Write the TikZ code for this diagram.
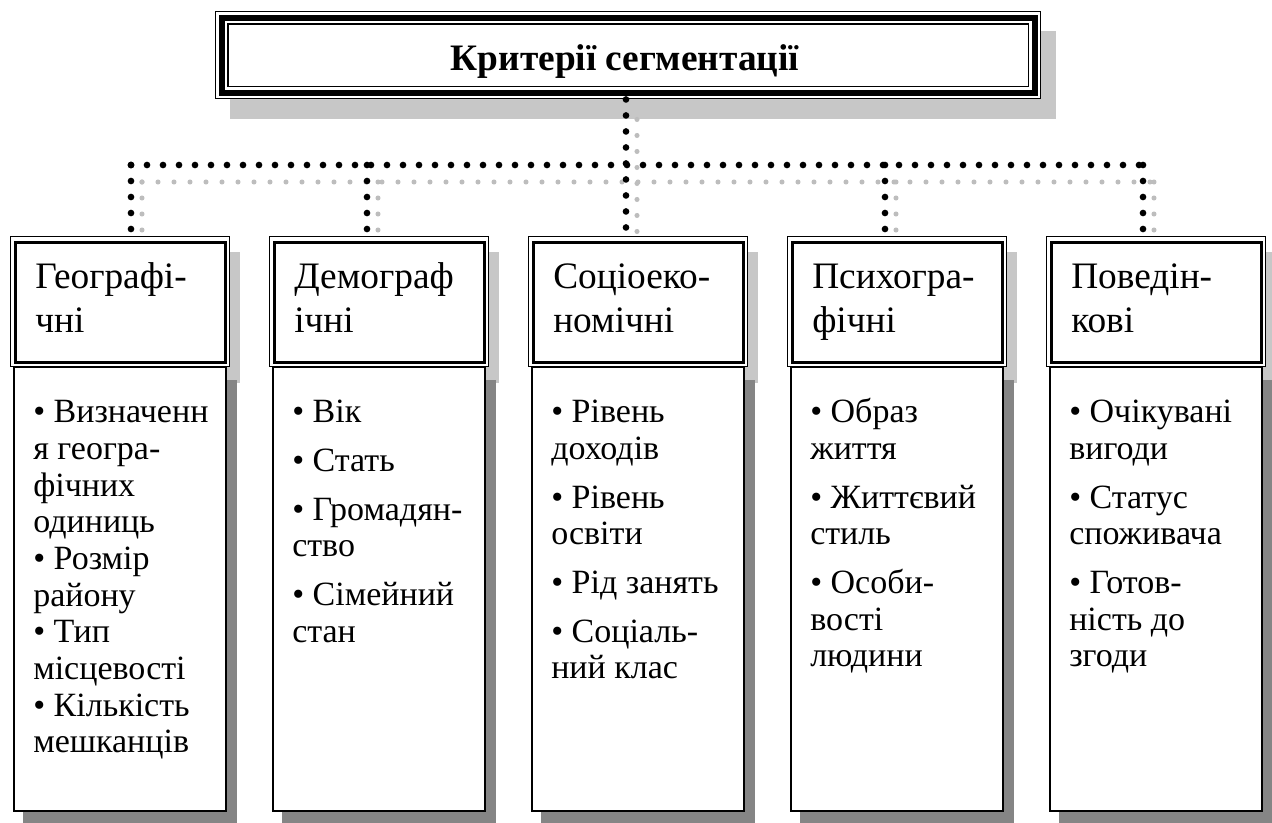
\documentclass[tikz,border=0pt]{standalone}
\usepackage{fontspec}
\setmainfont{Liberation Serif}
\usetikzlibrary{positioning,calc,backgrounds}
\definecolor{shadelight}{gray}{0.78}
\definecolor{shadedark}{gray}{0.52}
\definecolor{dotgray}{gray}{0.74}

\begin{document}
\begin{tikzpicture}[x=0.75pt,y=-0.75pt,
  headbox/.style={draw,line width=1.1pt,fill=white,anchor=north west,
    minimum width=164.25pt,minimum height=97.5pt,inner sep=0pt},
  lowbox/.style={draw,line width=1.5pt,fill=white,anchor=north west,
    minimum width=159pt,minimum height=333pt,inner sep=0pt},
  headtext/.style={anchor=north west,align=left,inner sep=0pt,
    font=\fontsize{28}{33}\selectfont},
  bodytext/.style={anchor=north west,align=left,inner sep=0pt,
    font=\fontsize{25.5}{27.5}\selectfont},
  blackdots/.style={line width=5pt,line cap=round,dash pattern=on 0pt off 12pt},
  graydots/.style={dotgray,line width=3.8pt,line cap=round,dash pattern=on 0pt off 12pt}
]
  \useasboundingbox (0,0) rectangle (1272,822);
  % головний блок
  \node[draw,line width=1.1pt,fill=white,anchor=north west,inner sep=0pt,
    minimum width=618.75pt,minimum height=65.25pt] (krit) at (215,11) {};
  \draw[line width=4.5pt] ($(krit.north west)+(6.5,6.5)$) rectangle ($(krit.south east)+(-6.5,-6.5)$);
  \draw[line width=1.1pt] ($(krit.north west)+(13,13)$) rectangle ($(krit.south east)+(-13,-13)$);
  \node[font=\fontsize{28}{32}\selectfont\bfseries,anchor=base] (kritlabel) at (625,70) {Критерії сегментації};
  % стовпці
  \foreach \i/\L/\c/\head/\body in {
    1/10/131/{Географі-\\чні}/{•~Визначенн\\я геогра-\\фічних\\одиниць\\•~Розмір\\району\\•~Тип\\місцевості\\•~Кількість\\мешканців},
    2/269/367/{Демограф\\ічні}/{•~Вік\\[9pt]•~Стать\\[9pt]•~Громадян-\\ство\\[9pt]•~Сімейний\\стан},
    3/528/626/{Соціоеко-\\номічні}/{•~Рівень\\доходів\\[9pt]•~Рівень\\освіти\\[9pt]•~Рід занять\\[9pt]•~Соціаль-\\ний клас},
    4/787/885/{Психогра-\\фічні}/{•~Образ\\життя\\[9pt]•~Життєвий\\стиль\\[9pt]•~Особи-\\вості\\людини},
    5/1046/1143/{Поведін-\\кові}/{•~Очікувані\\вигоди\\[9pt]•~Статус\\споживача\\[9pt]•~Готов-\\ність до\\згоди}}
  {
    \node[headbox] (h\i) at (\L,236) {};
    \node[lowbox] (l\i) at (\L+3,366) {};
    \draw[line width=2.25pt] ($(h\i.north west)+(5,6.5)$) rectangle ($(h\i.south east)+(-5,-5)$);
    \node[headtext] (ht\i) at (\L+25,257) {\strut\head};
    \node[bodytext] (bt\i) at (\L+23,397) {\strut\body};
    \coordinate (c\i) at (\c,165);
    \coordinate (g\i) at (\c+11,182);
  }
  % тіні
  \begin{scope}[on background layer]
    \fill[shadelight] ($(krit.north west)+(15,20)$) rectangle ($(krit.south east)+(15,20)$);
    \foreach \i in {1,...,5}
      \fill[shadelight] ($(h\i.north west)+(10,16)$) rectangle ($(h\i.south east)+(10,16)$);
    \foreach \i in {1,...,5}
      \fill[shadedark] ($(l\i.north west)+(10,14)$) rectangle ($(l\i.south east)+(10,14)$);
  \end{scope}
  % з'єднання
  \coordinate (kritshadow) at ($(krit.south)+(0,20)$);
  \draw[graydots] (g1) -- (g5);
  \draw[graydots] (kritshadow -| g3) -- (g3 |- h3.north);
  \foreach \i in {1,2,4,5}
    \draw[graydots] (g\i) -- (g\i |- h\i.north);
  \draw[blackdots] (c1) -- (c5);
  \draw[blackdots] (krit.south -| c3) -- (c3 |- h3.north);
  \foreach \i in {1,2,4,5}
    \draw[blackdots] (c\i) -- (c\i |- h\i.north);
\end{tikzpicture}
\end{document}
